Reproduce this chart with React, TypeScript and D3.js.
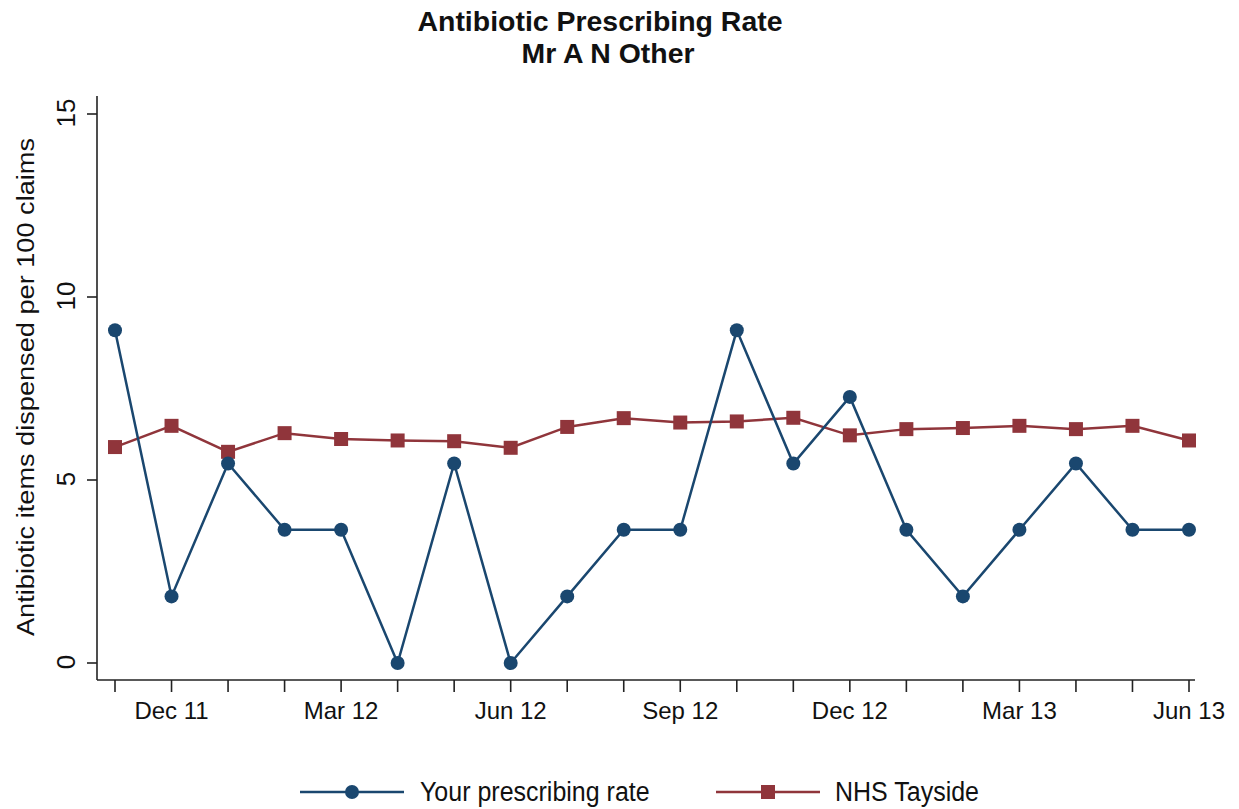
import React from "react";
import * as d3 from "d3";

const months = ["Nov 11","Dec 11","Jan 12","Feb 12","Mar 12","Apr 12","May 12","Jun 12","Jul 12","Aug 12","Sep 12","Oct 12","Nov 12","Dec 12","Jan 13","Feb 13","Mar 13","Apr 13","May 13","Jun 13"];
const labelledMonths = ["Dec 11","Mar 12","Jun 12","Sep 12","Dec 12","Mar 13","Jun 13"];
const yourRate = [9.09,1.82,5.45,3.64,3.64,0,5.45,0,1.82,3.64,3.64,9.09,5.45,7.27,3.64,1.82,3.64,5.45,3.64,3.64];
const tayside = [5.9,6.48,5.77,6.28,6.12,6.08,6.06,5.88,6.45,6.69,6.57,6.6,6.7,6.22,6.39,6.42,6.48,6.39,6.48,6.08];
const yTicks = [0,5,10,15];

const BLUE = "#1a476f";
const RED = "#90353b";
const FONT = "'Liberation Sans', Arial, sans-serif";

export default function App() {
  const W = 1239, H = 809;
  const x = d3.scaleLinear().domain([0, months.length - 1]).range([115, 1189]);
  const y = d3.scaleLinear().domain([0, 15]).range([663, 114]);
  const line = d3.line<number>().x((_, i) => x(i)).y(d => y(d));
  const axisLeft = 97, axisBottom = 680;

  return (
    <svg width={W} height={H} style={{ position: "absolute", left: 0, top: 0, background: "#fff" }} fontFamily={FONT} fill="#111">
      <rect width={W} height={H} fill="#fff" />
      <text x={600} y={31} textAnchor="middle" fontSize={28} fontWeight="bold" textLength={365} lengthAdjust="spacingAndGlyphs">Antibiotic Prescribing Rate</text>
      <text x={608} y={63} textAnchor="middle" fontSize={28} fontWeight="bold" textLength={173} lengthAdjust="spacingAndGlyphs">Mr A N Other</text>

      {/* y axis */}
      <line x1={axisLeft} x2={axisLeft} y1={96} y2={axisBottom} stroke="#222" strokeWidth={1.6} />
      {yTicks.map(t => (
        <g key={t}>
          <line x1={axisLeft - 10} x2={axisLeft} y1={y(t)} y2={y(t)} stroke="#222" strokeWidth={1.6} />
          <text transform={`translate(${axisLeft - 22},${y(t) - 1}) rotate(-90)`} textAnchor="middle" fontSize={26}>{t}</text>
        </g>
      ))}
      <text transform={`translate(34,387) rotate(-90)`} textAnchor="middle" fontSize={23} textLength={498} lengthAdjust="spacingAndGlyphs">Antibiotic items dispensed per 100 claims</text>

      {/* x axis */}
      <line x1={axisLeft} x2={1195} y1={axisBottom} y2={axisBottom} stroke="#222" strokeWidth={1.6} />
      {months.map((m, i) => (
        <g key={m}>
          <line x1={x(i)} x2={x(i)} y1={axisBottom} y2={axisBottom + 12} stroke="#222" strokeWidth={1.6} />
          {labelledMonths.includes(m) && (
            <text x={x(i)} y={axisBottom + 39} textAnchor="middle" fontSize={24}>{m}</text>
          )}
        </g>
      ))}

      {/* series */}
      <path d={line(tayside) || ""} fill="none" stroke={RED} strokeWidth={2.5} />
      {tayside.map((v, i) => (
        <rect key={i} x={x(i) - 7} y={y(v) - 7} width={14} height={14} fill={RED} />
      ))}
      <path d={line(yourRate) || ""} fill="none" stroke={BLUE} strokeWidth={2.5} />
      {yourRate.map((v, i) => (
        <circle key={i} cx={x(i)} cy={y(v)} r={7} fill={BLUE} />
      ))}

      {/* legend */}
      <line x1={300} x2={404} y1={792} y2={792} stroke={BLUE} strokeWidth={2.5} />
      <circle cx={352} cy={792} r={7} fill={BLUE} />
      <text transform="translate(420,801) scale(1,1.12)" fontSize={25}>Your prescribing rate</text>
      <line x1={716} x2={820} y1={792} y2={792} stroke={RED} strokeWidth={2.5} />
      <rect x={761} y={785} width={14} height={14} fill={RED} />
      <text transform="translate(835,801) scale(1,1.12)" fontSize={25}>NHS Tayside</text>
    </svg>
  );
}
